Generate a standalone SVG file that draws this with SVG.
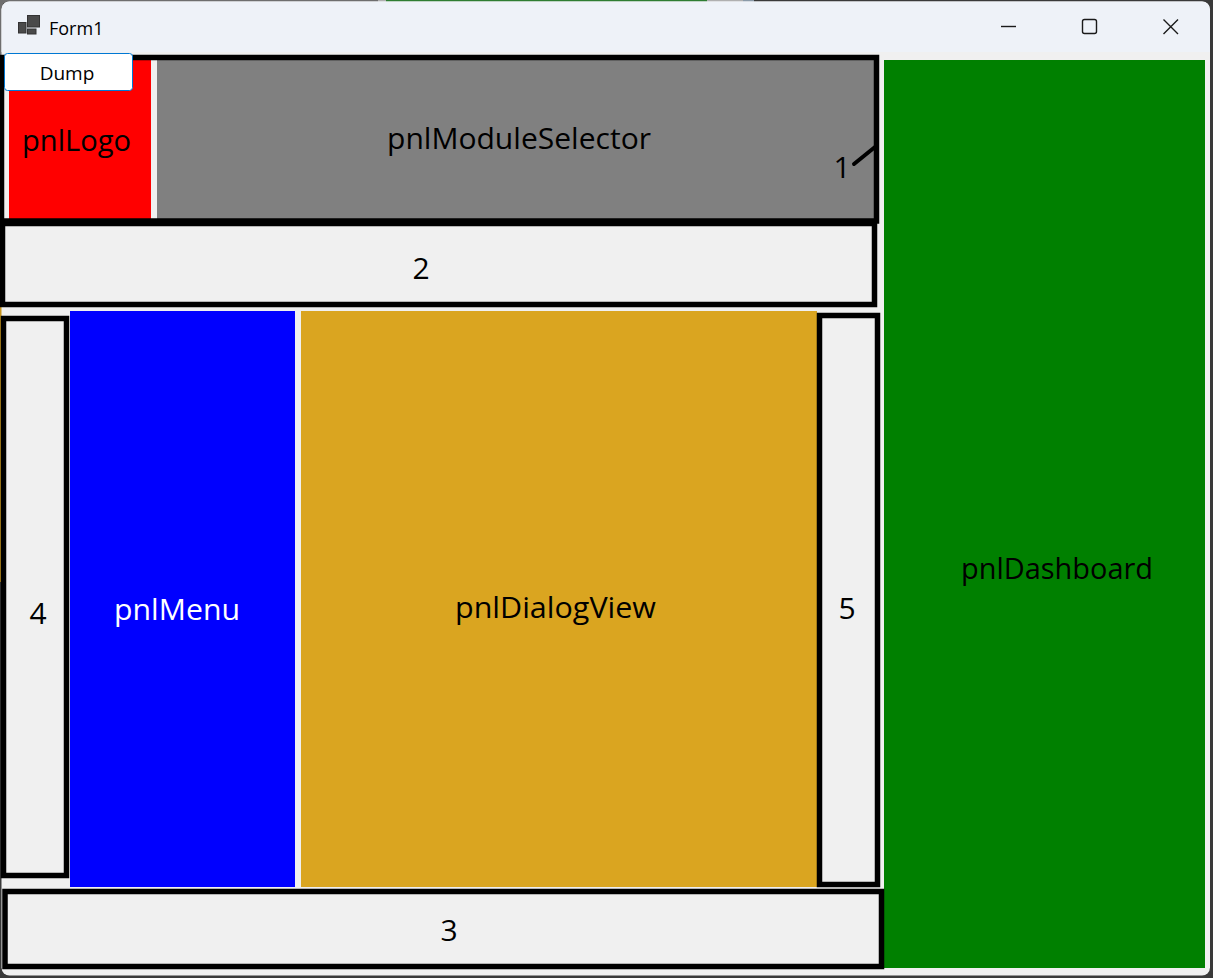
<svg xmlns="http://www.w3.org/2000/svg" width="1213" height="978" viewBox="0 0 1213 978">
<style>
.frame{fill:none;stroke:#000;stroke-width:5.5}
.lbl{font-family:"Open Sans","Noto Sans","Liberation Sans",sans-serif;font-size:29px;fill:#000;text-anchor:middle}
.dig{font-family:"Open Sans","Noto Sans","Liberation Sans",sans-serif;font-size:30px;fill:#000;text-anchor:middle}
.ui{font-family:"Open Sans","Noto Sans","Liberation Sans",sans-serif;fill:#000}
.cap{fill:none;stroke:#1a1a1a;stroke-width:1.4}
</style>
<g id="backdrop">
<rect x="0" y="0" width="1213" height="978" fill="#3a3a3a"/>
<rect x="0" y="0" width="378" height="3" fill="#6e6e6e"/>
<rect x="378" y="0" width="8" height="3" fill="#b0b0b0"/>
<rect x="386" y="0" width="321" height="3" fill="#2e7d32"/>
<rect x="707" y="0" width="36" height="3" fill="#b0b0b0"/>
<rect x="743" y="0" width="11" height="3" fill="#8a9aa8"/>
<rect x="0" y="0" width="3" height="300" fill="#6e6e6e"/>
<rect x="0" y="304" width="3" height="278" fill="#c8961e"/>
</g>
<g id="window">
<rect x="1.5" y="1.5" width="1208.5" height="974" rx="8" fill="#f0f0f0"/>
<path d="M1.5 52 V9.5 A8 8 0 0 1 9.5 1.5 H1202 A8 8 0 0 1 1210 9.5 V52 Z" fill="#eef2f8"/>
</g>
<g id="titlebar">
<rect x="18.5" y="22.5" width="7.5" height="10.5" fill="#4a4a4a" stroke="#333" stroke-width="1"/>
<rect x="27.5" y="15.5" width="12" height="11.5" fill="#4a4a4a" stroke="#333" stroke-width="1"/>
<rect x="27.5" y="29" width="8.5" height="5" fill="#4a4a4a" stroke="#333" stroke-width="1"/>
<text class="ui" x="49" y="35" font-size="18">Form1</text>
<line class="cap" x1="1001" y1="26.5" x2="1016" y2="26.5"/>
<rect class="cap" x="1082.5" y="19.5" width="14" height="14" rx="2"/>
<path class="cap" d="M1163.5 19.5 L1178 34 M1178 19.5 L1163.5 34"/>
</g>
<g id="pnlLogo">
<rect x="9" y="60" width="142" height="159" fill="#ff0000"/>
<text class="lbl" x="76.5" y="151" textLength="109" lengthAdjust="spacingAndGlyphs">pnlLogo</text>
</g>
<g id="pnlModuleSelector">
<rect x="157" y="60" width="717" height="159" fill="#808080"/>
<text class="lbl" x="519" y="149" textLength="264" lengthAdjust="spacingAndGlyphs">pnlModuleSelector</text>
</g>
<g id="pnlMenu">
<rect x="70" y="311" width="225" height="576" fill="#0000ff"/>
<text class="lbl" x="177" y="620" textLength="126" lengthAdjust="spacingAndGlyphs" style="fill:#fff">pnlMenu</text>
</g>
<g id="pnlDialogView">
<rect x="301" y="311" width="516" height="576" fill="#daa520"/>
<text class="lbl" x="555.5" y="618" textLength="201" lengthAdjust="spacingAndGlyphs">pnlDialogView</text>
</g>
<g id="pnlDashboard">
<rect x="884" y="60" width="321" height="908" fill="#008000"/>
<text class="lbl" x="1057" y="579" textLength="192" lengthAdjust="spacingAndGlyphs">pnlDashboard</text>
</g>
<g id="frame1">
<rect class="frame" x="1.5" y="57.5" width="875" height="163.5"/>
<text class="dig" x="842" y="178">1</text>
</g>
<g id="frame2">
<rect class="frame" x="2.5" y="223.5" width="872" height="81"/>
<text class="dig" x="421" y="279">2</text>
</g>
<g id="frame4">
<rect class="frame" x="3.5" y="318.5" width="63" height="557"/>
<text class="dig" x="38" y="624">4</text>
</g>
<g id="frame5">
<rect class="frame" x="819.5" y="315.5" width="58" height="569"/>
<text class="dig" x="847" y="619">5</text>
</g>
<g id="frame3">
<rect class="frame" x="5" y="891.5" width="876.5" height="75"/>
<text class="dig" x="449" y="941">3</text>
</g>
<g id="btnDump">
<rect x="4.5" y="53.5" width="128" height="37" rx="3" fill="#fff" stroke="#0078d4" stroke-width="1"/>
<text class="ui" x="67" y="80" font-size="19" text-anchor="middle">Dump</text>
</g>
<g id="connectors">
<line x1="854" y1="164" x2="875" y2="147" stroke="#000" stroke-width="4" stroke-linecap="round"/>
</g>
</svg>
